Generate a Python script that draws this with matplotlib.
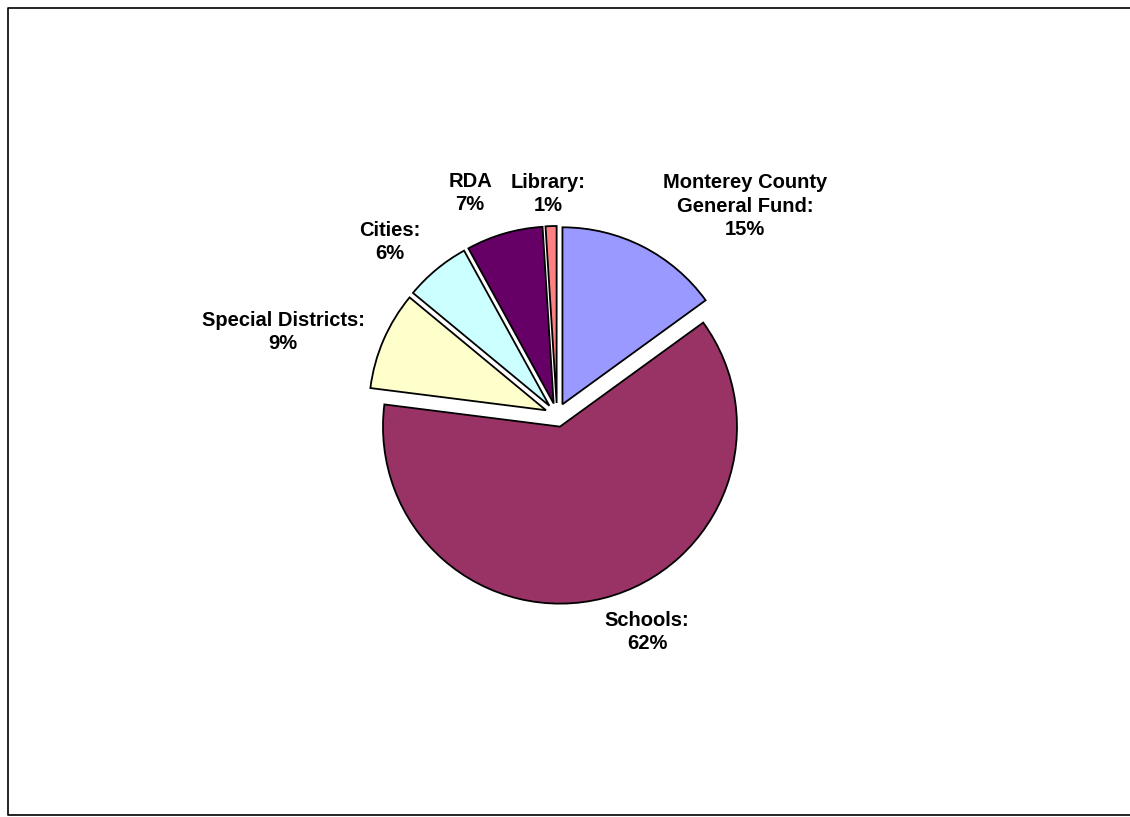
import matplotlib.pyplot as plt
import numpy as np
from matplotlib.lines import Line2D

# share of property tax (%), clockwise from 12 o'clock
labels = ['Monterey County\nGeneral Fund:', 'Schools:', 'Special Districts:',
          'Cities:', 'RDA', 'Library:']
values = [15, 62, 9, 6, 7, 1]
colors = ['#9999FF', '#993366', '#FFFFCC', '#CCFFFF', '#660066', '#FF8080']

# label anchor points, pixel coords (x from left, y from top)
label_pos = [(745, 206), (647, 632), (283, 332), (390, 242), (470, 193), (548, 194)]

W, H = 1130, 817
plt.rcParams['font.family'] = ['Liberation Sans', 'DejaVu Sans']

fig = plt.figure(figsize=(W / 100, H / 100), dpi=100)
ax = fig.add_axes([0, 0, 1, 1])

cx, cy, r = 557, H - 415, 177
# explode is in data units (pixels here)
ax.pie(values, colors=colors, startangle=90, counterclock=False,
       center=(cx, cy), radius=r, explode=[12] * len(values),
       wedgeprops=dict(edgecolor='black', linewidth=1.3), frame=True)
ax.set_xlim(0, W)
ax.set_ylim(0, H)
ax.set_aspect('equal')
ax.axis('off')

for lab, v, (px, py) in zip(labels, values, label_pos):
    ax.text(px, H - py, f'{lab}\n{v}%', ha='center', va='center',
            fontsize=14.5, fontweight='bold', linespacing=1.3)

# chart-area border: top, left and bottom (open on the right)
fx = [W, 8, 8, W]
fy = [H - 8, H - 8, 2, 2]
fig.lines.append(Line2D([x / W for x in fx], [y / H for y in fy],
                        transform=fig.transFigure, color='black', linewidth=1.2))

fig.savefig('out.png', dpi=100)
